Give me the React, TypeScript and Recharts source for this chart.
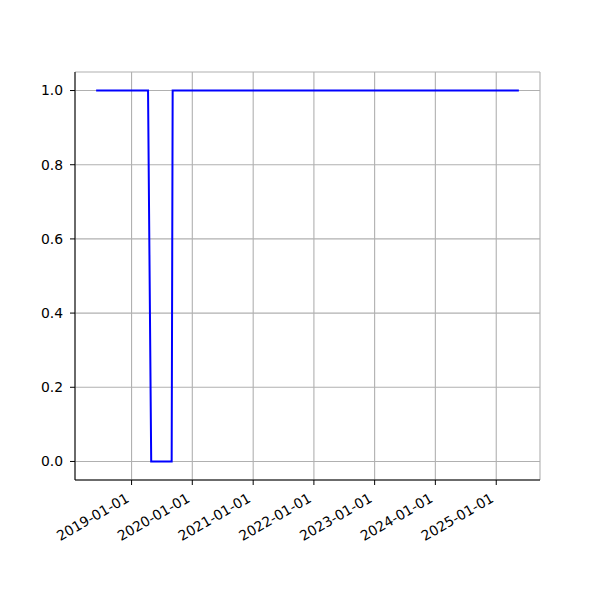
import { LineChart, Line, XAxis, YAxis, CartesianGrid } from "recharts";

// corner points of the step signal
const dates = ["2018-06-02", "2019-04-10", "2019-04-29", "2019-08-30", "2019-09-05", "2025-05-17"];
const values = [1, 1, 0, 0, 1, 1];
const yearTicks = ["2019-01-01", "2020-01-01", "2021-01-01", "2022-01-01", "2023-01-01", "2024-01-01", "2025-01-01"];
const yTicks = [0, 0.2, 0.4, 0.6, 0.8, 1.0];

const toMs = (d: string) => Date.parse(d + "T00:00:00Z");
const data = dates.map((d, i) => ({ t: toMs(d), v: values[i] }));
const xTicks = yearTicks.map(toMs);

const tMin = data[0].t;
const tMax = data[data.length - 1].t;
const pad = (tMax - tMin) * 0.05;

const fmtDate = (ms: number) => new Date(ms).toISOString().slice(0, 10);

const font = "DejaVu Sans, sans-serif";

function DateTick({ x, y, payload }: { x?: number; y?: number; payload?: { value: number } }) {
  if (!payload) return null;
  return (
    <g transform={`translate(${(x ?? 0) - 1.5},${(y ?? 0) + 14})`}>
      <text transform="rotate(-30)" textAnchor="end" fill="#000" fontSize={13.9} fontFamily={font}>
        {fmtDate(payload.value)}
      </text>
    </g>
  );
}

export default function App() {
  return (
    <div style={{ position: "absolute", left: 0, top: 0, width: 600, height: 600, background: "#fff" }}>
      <LineChart
        width={600}
        height={600}
        data={data}
        margin={{ top: 72, right: 60, left: 30, bottom: 80 }}
      >
        <CartesianGrid stroke="#b0b0b0" strokeWidth={1.1} vertical horizontal />
        <XAxis
          dataKey="t"
          type="number"
          scale="time"
          domain={[tMin - pad, tMax + pad]}
          ticks={xTicks}
          interval={0}
          height={40}
          tick={(p) => <DateTick {...p} />}
          tickSize={5}
          tickLine={{ stroke: "#000" }}
          axisLine={{ stroke: "#000" }}
          allowDataOverflow
        />
        <XAxis
          xAxisId="top"
          dataKey="t"
          type="number"
          orientation="top"
          domain={[tMin - pad, tMax + pad]}
          height={0}
          tick={false}
          tickLine={false}
          axisLine={{ stroke: "#000" }}
        />
        <YAxis
          type="number"
          domain={[-0.05, 1.05]}
          ticks={yTicks}
          interval={0}
          width={45}
          tickSize={5}
          tickMargin={7}
          tickFormatter={(v: number) => v.toFixed(1)}
          tick={{ fill: "#000", fontSize: 13.9, fontFamily: font }}
          tickLine={{ stroke: "#000" }}
          axisLine={{ stroke: "#000" }}
          allowDataOverflow
        />
        <YAxis
          yAxisId="right"
          orientation="right"
          domain={[-0.05, 1.05]}
          width={0}
          tick={false}
          tickLine={false}
          axisLine={{ stroke: "#000" }}
        />
        <Line
          dataKey="v"
          type="linear"
          stroke="#0000ff"
          strokeWidth={2}
          dot={false}
          isAnimationActive={false}
        />
      </LineChart>
    </div>
  );
}
